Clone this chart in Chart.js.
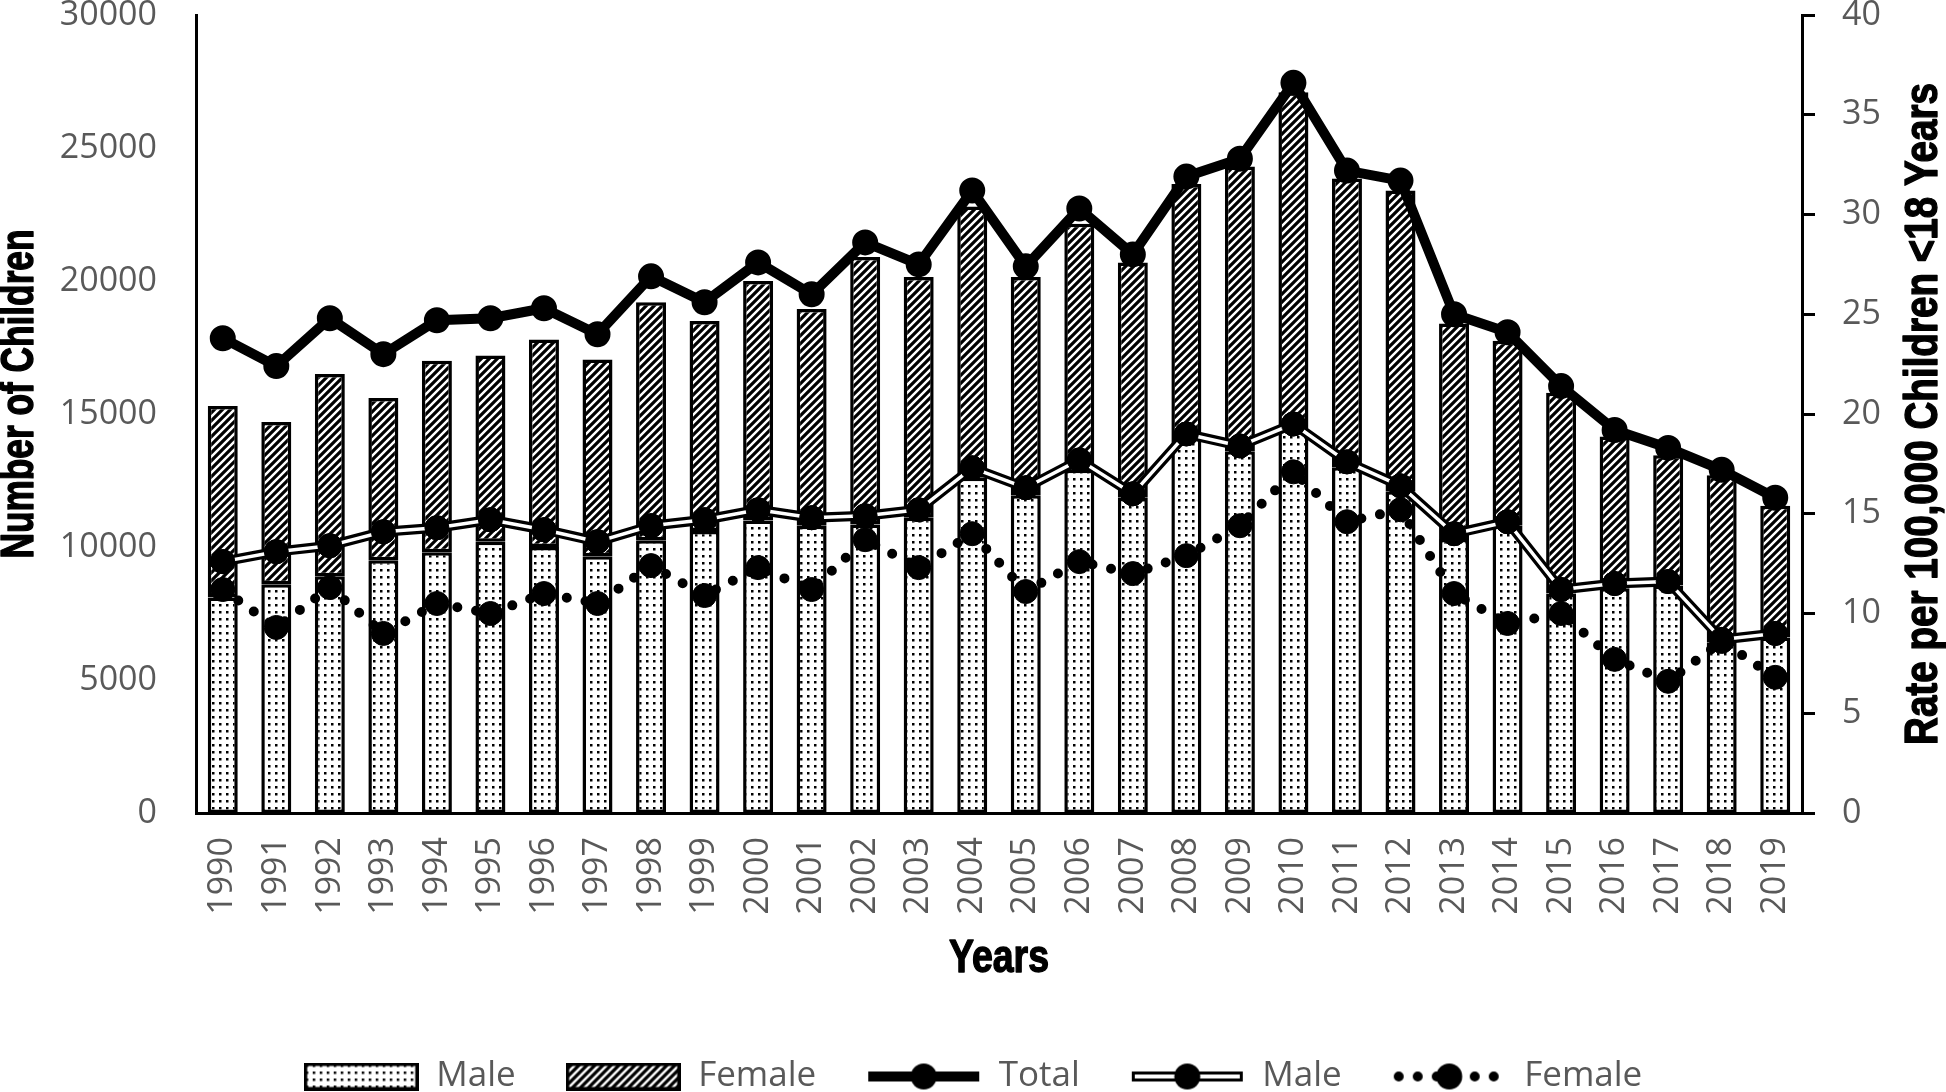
<!DOCTYPE html>
<html>
<head>
<meta charset="utf-8">
<script src="https://cdn.jsdelivr.net/npm/chart.js@4.4.1/dist/chart.umd.min.js"></script>
<style>
  html, body { margin: 0; padding: 0; background: #fff; overflow: hidden; }
  canvas { display: block; }
</style>
</head>
<body>
<canvas id="chart1" width="1946" height="1104"></canvas>
<script>
const years = ['1990','1991','1992','1993','1994','1995','1996','1997','1998','1999',
  '2000','2001','2002','2003','2004','2005','2006','2007','2008','2009',
  '2010','2011','2012','2013','2014','2015','2016','2017','2018','2019'];

// number of children (left axis, stacked bars)
const maleCount = [8100, 8600, 8900, 9500, 9800, 10200, 10000, 9650, 10250, 10600,
  11000, 10800, 10850, 11100, 12600, 11950, 12900, 11850, 14100, 13600,
  14450, 13000, 12100, 10300, 10800, 8250, 8450, 8550, 6400, 6600];
const femaleCount = [7200, 6100, 7600, 6100, 7200, 7000, 7800, 7400, 8950, 7900,
  9000, 8150, 10050, 9050, 10200, 8200, 9250, 8850, 9550, 10700,
  12650, 10850, 11300, 8100, 6950, 7550, 5700, 4900, 6300, 4950];

// rate per 100,000 children (right axis)
const totalRate = [23.8, 22.4, 24.8, 23.0, 24.7, 24.8, 25.3, 24.0, 26.9, 25.6,
  27.6, 26.0, 28.6, 27.5, 31.2, 27.4, 30.3, 28.0, 31.9, 32.8,
  36.6, 32.2, 31.7, 25.0, 24.1, 21.4, 19.2, 18.3, 17.2, 15.8];
const maleRate = [12.6, 13.1, 13.4, 14.1, 14.3, 14.7, 14.2, 13.6, 14.4, 14.7,
  15.2, 14.8, 14.9, 15.2, 17.3, 16.3, 17.7, 16.0, 19.0, 18.4,
  19.5, 17.6, 16.4, 14.0, 14.6, 11.2, 11.5, 11.6, 8.7, 9.0];
const femaleRate = [11.2, 9.3, 11.3, 9.0, 10.5, 10.0, 11.0, 10.5, 12.4, 10.9,
  12.3, 11.2, 13.7, 12.3, 14.0, 11.1, 12.6, 12.0, 12.9, 14.4,
  17.1, 14.6, 15.2, 11.0, 9.5, 10.0, 7.7, 6.6, 8.6, 6.8];

const leftTitle = 'Number of Children';
const rightTitle = 'Rate per 100,000 Children <18 Years';
const bottomTitle = 'Years';

const tickFont = {family: "'Open Sans', sans-serif", size: 34, lineHeight: 1};
const titleFont = "bold 46px 'Liberation Sans', Arial, sans-serif";
const gray = '#595959';

const canvas = document.getElementById('chart1');
const mainCtx = canvas.getContext('2d');

// pattern tiles
function dotTile() {
  const c = document.createElement('canvas');
  c.width = 7; c.height = 7;
  const g = c.getContext('2d');
  g.fillStyle = '#fff'; g.fillRect(0, 0, 7, 7);
  g.fillStyle = '#000';
  g.fillRect(2, 2, 2.5, 2.5);
  return c;
}
function stripeTile() {
  const c = document.createElement('canvas');
  c.width = 8; c.height = 8;
  const g = c.getContext('2d');
  g.fillStyle = '#fff'; g.fillRect(0, 0, 8, 8);
  g.strokeStyle = '#000'; g.lineWidth = 3.2;
  g.beginPath();
  g.moveTo(-4, 4); g.lineTo(4, -4);
  g.moveTo(0, 8); g.lineTo(8, 0);
  g.moveTo(4, 12); g.lineTo(12, 4);
  g.stroke();
  return c;
}
const dots = mainCtx.createPattern(dotTile(), 'repeat');
const stripes = mainCtx.createPattern(stripeTile(), 'repeat');

// legend symbols
function barIcon(tile) {
  const c = document.createElement('canvas');
  c.width = 115; c.height = 28;
  const g = c.getContext('2d');
  g.fillStyle = g.createPattern(tile, 'repeat');
  g.fillRect(0, 0, 115, 28);
  g.strokeStyle = '#000'; g.lineWidth = 3.5;
  g.strokeRect(1.75, 1.75, 111.5, 24.5);
  return c;
}
function lineIcon(kind) {
  const c = document.createElement('canvas');
  c.width = 115; c.height = 30;
  const g = c.getContext('2d');
  g.strokeStyle = '#000';
  g.lineCap = kind === 'dot' ? 'round' : 'butt';
  g.lineWidth = 10;
  if (kind === 'dot') g.setLineDash([0, 19]);
  g.beginPath(); g.moveTo(kind === 'dot' ? 7 : 2, 15); g.lineTo(113, 15); g.stroke();
  if (kind === 'double') {
    g.strokeStyle = '#fff'; g.lineWidth = 4;
    g.beginPath(); g.moveTo(5, 15); g.lineTo(110, 15); g.stroke();
  }
  g.fillStyle = '#000';
  g.beginPath(); g.arc(57.5, 15, 13, 0, Math.PI * 2); g.fill();
  return c;
}
const icons = [barIcon(dotTile()), barIcon(stripeTile()), lineIcon('solid'), lineIcon('double'), lineIcon('dot')];

// male rate line: white core over black line, markers redrawn on top
const doubleLine = {
  id: 'doubleLine',
  afterDatasetDraw(chart, args) {
    const ds = chart.data.datasets[args.index];
    if (!ds.doubleLine) return;
    const ctx = chart.ctx;
    const pts = args.meta.data;
    ctx.save();
    ctx.strokeStyle = '#fff';
    ctx.lineWidth = 3.5;
    ctx.lineJoin = 'round';
    ctx.beginPath();
    pts.forEach((p, i) => i ? ctx.lineTo(p.x, p.y) : ctx.moveTo(p.x, p.y));
    ctx.stroke();
    ctx.restore();
    pts.forEach(p => p.draw(ctx, chart.chartArea));
  }
};

// axis titles in a narrow heavy face (condensed horizontally to the given length)
function narrowText(ctx, text, x, y, rot, len) {
  ctx.save();
  ctx.translate(x, y);
  ctx.rotate(rot);
  ctx.font = titleFont;
  ctx.fillStyle = '#000';
  ctx.strokeStyle = '#000';
  ctx.lineWidth = 1.4;
  ctx.lineJoin = 'round';
  ctx.textAlign = 'center';
  ctx.textBaseline = 'middle';
  const w = ctx.measureText(text).width;
  ctx.scale(len / w, 1);
  ctx.fillText(text, 0, 0);
  ctx.strokeText(text, 0, 0);
  ctx.restore();
}
const axisTitles = {
  id: 'axisTitles',
  afterDraw(chart) {
    const ctx = chart.ctx;
    const a = chart.chartArea;
    narrowText(ctx, leftTitle, 20, 394, -Math.PI / 2, 329);
    narrowText(ctx, rightTitle, chart.scales.y1.right - 22, (a.top + a.bottom) / 2, -Math.PI / 2, 662);
    narrowText(ctx, bottomTitle, (a.left + a.right) / 2, 959, 0, 100);
  }
};

const data = {
  labels: years,
  datasets: [{
    type: 'bar',
    label: 'Male',
    data: maleCount,
    yAxisID: 'y',
    stack: 'count',
    backgroundColor: dots,
    borderColor: '#000',
    borderWidth: 3.5,
    borderSkipped: false,
    barPercentage: 0.56,
    categoryPercentage: 1,
    order: 4
  }, {
    type: 'bar',
    label: 'Female',
    data: femaleCount,
    yAxisID: 'y',
    stack: 'count',
    backgroundColor: stripes,
    borderColor: '#000',
    borderWidth: 3.5,
    borderSkipped: false,
    barPercentage: 0.56,
    categoryPercentage: 1,
    order: 5
  }, {
    type: 'line',
    label: 'Total',
    data: totalRate,
    yAxisID: 'y1',
    borderColor: '#000',
    borderWidth: 10,
    borderJoinStyle: 'round',
    pointRadius: 12,
    pointBorderWidth: 2,
    pointBackgroundColor: '#000',
    pointBorderColor: '#000',
    tension: 0,
    order: 1
  }, {
    type: 'line',
    label: 'Male',
    data: maleRate,
    yAxisID: 'y1',
    doubleLine: true,
    borderColor: '#000',
    borderWidth: 10,
    borderJoinStyle: 'round',
    pointRadius: 12,
    pointBorderWidth: 1,
    pointBackgroundColor: '#000',
    pointBorderColor: '#000',
    tension: 0,
    order: 2
  }, {
    type: 'line',
    label: 'Female',
    data: femaleRate,
    yAxisID: 'y1',
    borderColor: '#000',
    borderWidth: 10,
    borderDash: [0, 19],
    borderCapStyle: 'round',
    pointRadius: 12,
    pointBorderWidth: 1,
    pointBackgroundColor: '#000',
    pointBorderColor: '#000',
    tension: 0,
    order: 3
  }]
};

const config = {
  type: 'bar',
  data: data,
  plugins: [doubleLine, axisTitles],
  options: {
    responsive: false,
    animation: false,
    devicePixelRatio: 1,
    layout: {padding: 0},
    plugins: {
      tooltip: {enabled: false},
      legend: {
        position: 'bottom',
        labels: {
          usePointStyle: true,
          pointStyleWidth: 115,
          padding: 50,
          color: gray,
          font: {family: "'Open Sans', sans-serif", size: 35},
          generateLabels: (chart) => chart.data.datasets.map((ds, i) => ({
            text: ds.label,
            datasetIndex: i,
            pointStyle: icons[i],
            fillStyle: '#000',
            strokeStyle: '#000',
            lineWidth: 0,
            hidden: !chart.isDatasetVisible(i),
            fontColor: gray
          }))
        }
      }
    },
    scales: {
      x: {
        stacked: true,
        grid: {display: false, drawTicks: false},
        border: {display: true, color: '#000', width: 3},
        ticks: {color: gray, font: tickFont, minRotation: 90, maxRotation: 90, autoSkip: false, padding: 24},
        afterFit: (s) => { s.height = 196; s.paddingLeft = 0; s.paddingRight = 0; }
      },
      y: {
        position: 'left',
        stacked: true,
        min: 0,
        max: 30000,
        grid: {display: false, drawTicks: false},
        border: {display: true, color: '#000', width: 3},
        ticks: {stepSize: 5000, color: gray, font: tickFont, padding: 39, callback: (v) => String(v)},
        afterFit: (s) => { s.width = 196; s.paddingTop = 15; s.paddingBottom = 0; }
      },
      y1: {
        position: 'right',
        min: 0,
        max: 40,
        grid: {display: true, drawOnChartArea: false, drawTicks: true, tickLength: 13, color: '#000', lineWidth: 3},
        border: {display: true, color: '#000', width: 3},
        ticks: {stepSize: 5, color: gray, font: tickFont, padding: 27},
        afterFit: (s) => { s.width = 144; s.paddingTop = 15; s.paddingBottom = 0; }
      }
    }
  }
};

var myChart = new Chart(canvas, config);
</script>
</body>
</html>
